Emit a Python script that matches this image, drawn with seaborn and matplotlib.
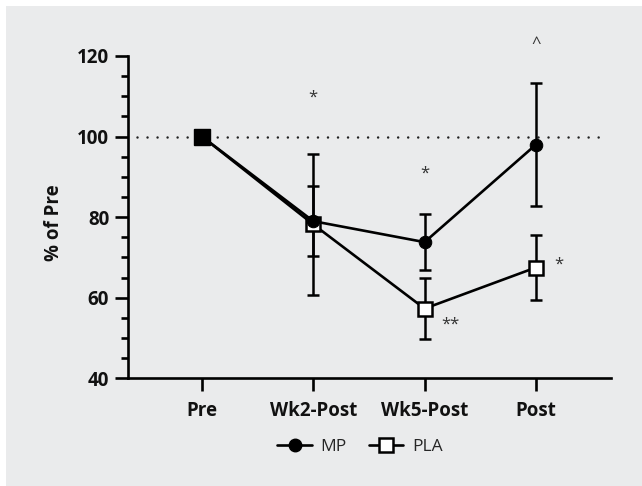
import matplotlib
matplotlib.use("Agg")
import matplotlib.pyplot as plt
import seaborn as sns
import pandas as pd
from matplotlib.patches import Rectangle
from matplotlib.lines import Line2D
from matplotlib.ticker import MultipleLocator

# ---- data ----
timepoints = ["Pre", "Wk2-Post", "Wk5-Post", "Post"]
mp_mean = [100, 79.0, 73.8, 98.0]
mp_sd = [0, 8.7, 7.0, 15.2]
pla_mean = [100, 78.2, 57.3, 67.5]
pla_sd = [0, 17.5, 7.6, 8.0]
groups = ["MP", "PLA"]
yticks = [40, 60, 80, 100, 120]
annot_text = ["*", "*", "**", "^", "*"]
annot_x = [1, 2, 2.23, 3, 3.21]
annot_y = [109.6, 90.7, 53.2, 123.1, 68.1]
reference_line = 100

pos = list(range(len(timepoints)))
df = pd.DataFrame({
    "pos": pos * 2,
    "value": mp_mean + pla_mean,
    "sd": mp_sd + pla_sd,
    "group": [groups[0]] * len(pos) + [groups[1]] * len(pos),
})

sns.set_theme(style="ticks")
plt.rcParams["font.family"] = ["Open Sans", "DejaVu Sans"]

fig = plt.figure(figsize=(6.42, 4.86), dpi=100)
fig.patch.set_facecolor("white")
fig.patches.append(Rectangle((6 / 642, 0), 1, 1 - 6 / 486, transform=fig.transFigure,
                             facecolor="#EAEBEC", edgecolor="none", zorder=-10))

ax = fig.add_axes([128 / 642, 1 - 378.3 / 486, (611 - 128) / 642, (378.3 - 56) / 486])
ax.set_facecolor("none")

# reference dotted line
ax.plot([-0.58, 3.59], [reference_line, reference_line], color="#222222", lw=1.8,
        ls=(0, (0.01, 4.0)), dash_capstyle="round", zorder=1)

mp = df[df.group == "MP"]
pla = df[df.group == "PLA"]

# error bars (skip Pre, SD = 0)
ax.errorbar(pla.pos.values[1:], pla.value.values[1:], yerr=pla.sd.values[1:], fmt="none",
            ecolor="black", elinewidth=1.8, capsize=4.5, capthick=1.8, zorder=2)
ax.errorbar(mp.pos.values[1:], mp.value.values[1:], yerr=mp.sd.values[1:], fmt="none",
            ecolor="black", elinewidth=1.8, capsize=4.5, capthick=1.8, zorder=2)

sns.lineplot(data=pla, x="pos", y="value", color="black", lw=1.9, marker="s",
             markersize=10, markerfacecolor="white", markeredgecolor="black",
             markeredgewidth=1.8, ax=ax, zorder=3, legend=False)
sns.lineplot(data=mp, x="pos", y="value", color="black", lw=1.9, marker="o",
             markersize=9, markerfacecolor="black", markeredgecolor="black",
             ax=ax, zorder=4, legend=False)
# Pre point (both groups at baseline) drawn as filled square
ax.plot(pos[0], pla_mean[0], marker="s", markersize=11.5, color="black", zorder=5, ls="none")

for t, x, y in zip(annot_text, annot_x, annot_y):
    ax.text(x, y, t, ha="center", va="center", fontsize=12, color="#333333",
            clip_on=False, zorder=6)

ax.set_xlim(-0.665, 3.675)
ax.set_ylim(40, 120)
ax.set_xticks(pos)
ax.set_xticklabels(timepoints, fontsize=13.5, fontweight="bold")
ax.set_yticks(yticks)
ax.set_yticklabels([str(v) for v in yticks], fontsize=13.5, fontweight="bold")
ax.yaxis.set_minor_locator(MultipleLocator(5))
ax.set_xlabel("")
ax.set_ylabel("% of Pre", fontsize=13.5, fontweight="bold", color="#111111")
ax.yaxis.set_label_coords(-0.133, 0.482)

for s in ["top", "right"]:
    ax.spines[s].set_visible(False)
for s in ["left", "bottom"]:
    ax.spines[s].set_linewidth(1.9)
    ax.spines[s].set_color("black")
ax.tick_params(axis="both", which="major", length=9.5, width=1.9, color="black",
               labelcolor="#111111")
ax.tick_params(axis="y", which="major", pad=4)
ax.tick_params(axis="x", which="major", pad=7)
ax.tick_params(axis="y", which="minor", length=5, width=1.9, color="black")

handles = [
    Line2D([], [], color="black", lw=1.9, marker="o", markersize=9, markerfacecolor="black"),
    Line2D([], [], color="black", lw=1.9, marker="s", markersize=10,
           markerfacecolor="white", markeredgewidth=1.8),
]
fig.legend(handles, groups, loc="center", bbox_to_anchor=(360 / 642, 1 - 447 / 486),
           ncol=2, frameon=False, fontsize=12.5, handlelength=2.0, columnspacing=1.25,
           handletextpad=0.5)

fig.savefig("out.png", dpi=100, facecolor=fig.get_facecolor())
